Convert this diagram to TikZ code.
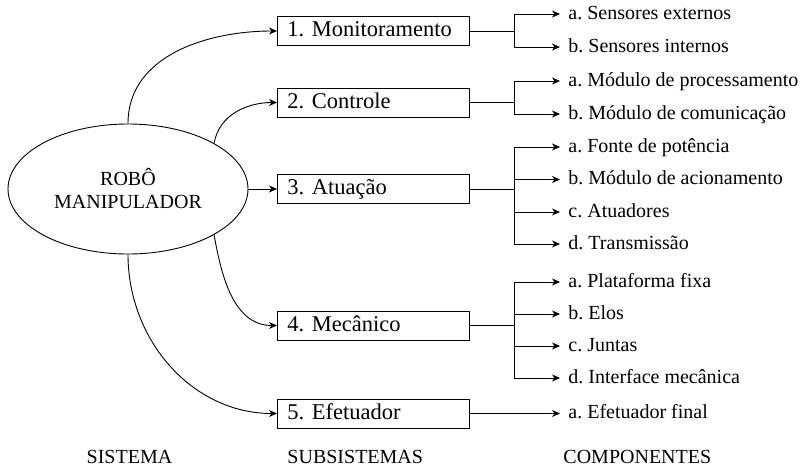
\documentclass[tikz,border=0pt]{standalone}
\usepackage{fontspec}
\setmainfont{Liberation Serif}
\newfontfamily\tms{Liberation Serif}
\usetikzlibrary{arrows.meta,shapes.geometric}
\frenchspacing
\begin{document}
\begin{tikzpicture}[x=1pt,y=1pt,line width=0.9pt,
  tip/.style={-{Stealth[length=8pt,width=7pt,inset=2.5pt]}},
  subbox/.style={draw,anchor=west,minimum height=29pt,inner ysep=0pt,
    inner xsep=10pt,text width=172pt,align=left,
    font=\tms\fontsize{22.5}{26}\selectfont,text height=15pt,text depth=4pt},
  comp/.style={anchor=west,inner xsep=8pt,inner ysep=0pt,
    font=\tms\fontsize{20}{24}\selectfont,text height=14pt,text depth=4pt},
  caption/.style={inner sep=0pt,font=\tms\fontsize{20}{24}\selectfont,
    text height=14pt,text depth=4pt}]
\useasboundingbox (0,0) rectangle (808,-469);

% system
\node[ellipse,draw,minimum width=240pt,minimum height=130pt,inner sep=0pt,
  align=center,font=\tms\fontsize{20}{23}\selectfont] (robo) at (128,-189)
  {ROBÔ\\MANIPULADOR};

% subsystems
\node[subbox] (s1) at (277,-31) {1. Monitoramento};
\node[subbox] (s2) at (277,-102.5) {2. Controle};
\node[subbox] (s3) at (277,-189) {3. Atuação};
\node[subbox] (s4) at (277,-325.5) {4. Mecânico};
\node[subbox] (s5) at (277,-413.5) {5. Efetuador};

% components
\node[comp] (c11) at (560,-14) {a. Sensores externos};
\node[comp] (c12) at (560,-47) {b. Sensores internos};
\node[comp] (c21) at (560,-81) {a. Módulo de processamento};
\node[comp] (c22) at (560,-114) {b. Módulo de comunicação};
\node[comp] (c31) at (560,-147) {a. Fonte de potência};
\node[comp] (c32) at (560,-179.5) {b. Módulo de acionamento};
\node[comp] (c33) at (560,-212) {c. Atuadores};
\node[comp] (c34) at (560,-244) {d. Transmissão};
\node[comp] (c41) at (560,-282) {a. Plataforma fixa};
\node[comp] (c42) at (560,-314) {b. Elos};
\node[comp] (c43) at (560,-346) {c. Juntas};
\node[comp] (c44) at (560,-378) {d. Interface mecânica};
\node[comp] (c51) at (560,-413.5) {a. Efetuador final};

% column captions
\node[caption] (cap1) at (129.5,-458) {SISTEMA};
\node[caption,anchor=west] (cap2) at (287,-458) {SUBSISTEMAS};
\node[caption,anchor=west] (cap3) at (563,-458) {COMPONENTES};

% system to subsystems
\draw[tip] (robo.north) to[out=90,in=180] (s1.west);
\draw[tip] (robo.28) to[out=80,in=180] (s2.west);
\draw[tip] (robo.east) -- (s3.west);
\draw[tip] (robo.-28) to[out=-80,in=180] (s4.west);
\draw[tip] (robo.south) to[out=-90,in=180] (s5.west);

% subsystems to components
\foreach \s/\c in {s1/c11,s1/c12,s2/c21,s2/c22,s3/c31,s3/c32,s3/c33,s3/c34,
                   s4/c41,s4/c42,s4/c43,s4/c44}
  \draw[tip] (\s.east) -- ++(45,0) |- (\c.west);
\draw[tip] (s5.east) -- (c51.west);
\end{tikzpicture}
\end{document}
